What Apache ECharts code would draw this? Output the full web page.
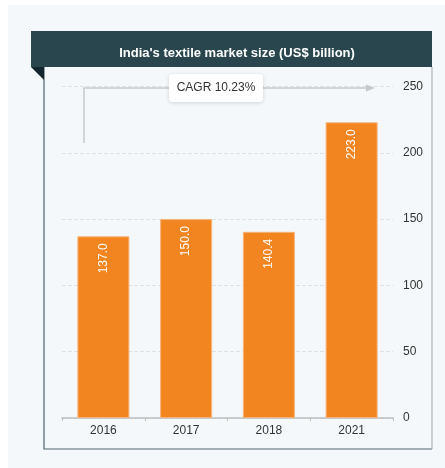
<!DOCTYPE html>
<html>
<head>
<meta charset="utf-8">
<script src="https://cdn.jsdelivr.net/npm/echarts@6/dist/echarts.min.js"></script>
<style>
    html, body { margin: 0; padding: 0; background: #ffffff; }
    #echartDiv { width: 445px; height: 468px; }
</style>
</head>
<body>
<div id="echartDiv"></div>
<script>
// 数据
const years = ['2016', '2017', '2018', '2021'];
const marketSize = [137.0, 150.0, 140.4, 223.0];
const yTicks = [0, 50, 100, 150, 200, 250];
const cagrText = 'CAGR 10.23%';

const fontFamily = '"Liberation Sans", Arial, sans-serif';

let option = {
    backgroundColor: '#ffffff',
    animation: false,
    title: {
        text: "India's textile market size (US$ billion)",
        left: 232,
        top: 42,
        textAlign: 'center',
        textStyle: { color: '#ffffff', fontSize: 13, fontWeight: 'bold', fontFamily: fontFamily }
    },
    graphic: [
        // outer panel
        { type: 'rect', z: -10, shape: { x: 8, y: 5, width: 437, height: 463 }, style: { fill: '#f4f8fa' } },
        // frame
        { type: 'polyline', z: -5, shape: { points: [[44, 67], [44, 449], [432, 449]] }, style: { stroke: '#4f666f', lineWidth: 1.2, fill: null } },
        { type: 'line', z: -5, shape: { x1: 432, y1: 67, x2: 432, y2: 449 }, style: { stroke: '#a9b5ba', lineWidth: 1.2 } },
        // header
        { type: 'rect', z: -4, shape: { x: 31, y: 31, width: 401, height: 36 }, style: { fill: '#29464f' } },
        { type: 'polygon', z: -4, shape: { points: [[31, 67], [44, 67], [44, 80]] }, style: { fill: '#12272d' } },
        // CAGR arrow
        { type: 'polyline', z: 5, shape: { points: [[84, 143], [84, 88], [368, 88]] }, style: { stroke: '#c6c9cb', lineWidth: 1.5, fill: null } },
        { type: 'polygon', z: 5, shape: { points: [[366, 84.5], [375, 88], [366, 91.5]] }, style: { fill: '#c6c9cb' } },
        {
            type: 'rect', z: 6,
            shape: { x: 169, y: 74, width: 94, height: 28, r: 4 },
            style: { fill: '#ffffff', shadowBlur: 4, shadowColor: 'rgba(0,0,0,0.15)', shadowOffsetY: 1 }
        },
        {
            type: 'text', z: 7, x: 216, y: 88,
            style: { text: cagrText, fill: '#333333', font: '12px ' + fontFamily, align: 'center', verticalAlign: 'middle' }
        }
    ],
    grid: { left: 62, right: 52, top: 86.5, bottom: 50 },
    xAxis: {
        type: 'category',
        data: years,
        axisLine: { lineStyle: { color: '#bdbdbd', width: 1.5 } },
        axisTick: { show: true, length: 3, lineStyle: { color: '#bdbdbd' } },
        axisLabel: { color: '#333333', fontSize: 12, fontFamily: fontFamily, margin: 7 }
    },
    yAxis: {
        type: 'value',
        position: 'right',
        min: yTicks[0],
        max: yTicks[yTicks.length - 1],
        interval: 50,
        axisLine: { show: false },
        axisTick: { show: false },
        axisLabel: { color: '#333333', fontSize: 12, fontFamily: fontFamily, margin: 10 },
        splitLine: { lineStyle: { color: '#dde1e3', type: 'dashed' } }
    },
    series: [
        {
            type: 'bar',
            data: marketSize,
            barWidth: 52,
            itemStyle: { color: '#f38520', borderColor: '#f6b27a', borderWidth: 1 },
            label: {
                show: true,
                position: 'insideTop',
                rotate: 90,
                align: 'right',
                verticalAlign: 'middle',
                distance: 7,
                color: '#ffffff',
                fontSize: 12,
                fontFamily: fontFamily,
                formatter: p => p.value.toFixed(1)
            }
        }
    ]
};

this.myChart = echarts.init(document.getElementById('echartDiv'));
this.myChart.setOption(option);
window.addEventListener('resize', () => {
    this.myChart.resize();
});
</script>
</body>
</html>
